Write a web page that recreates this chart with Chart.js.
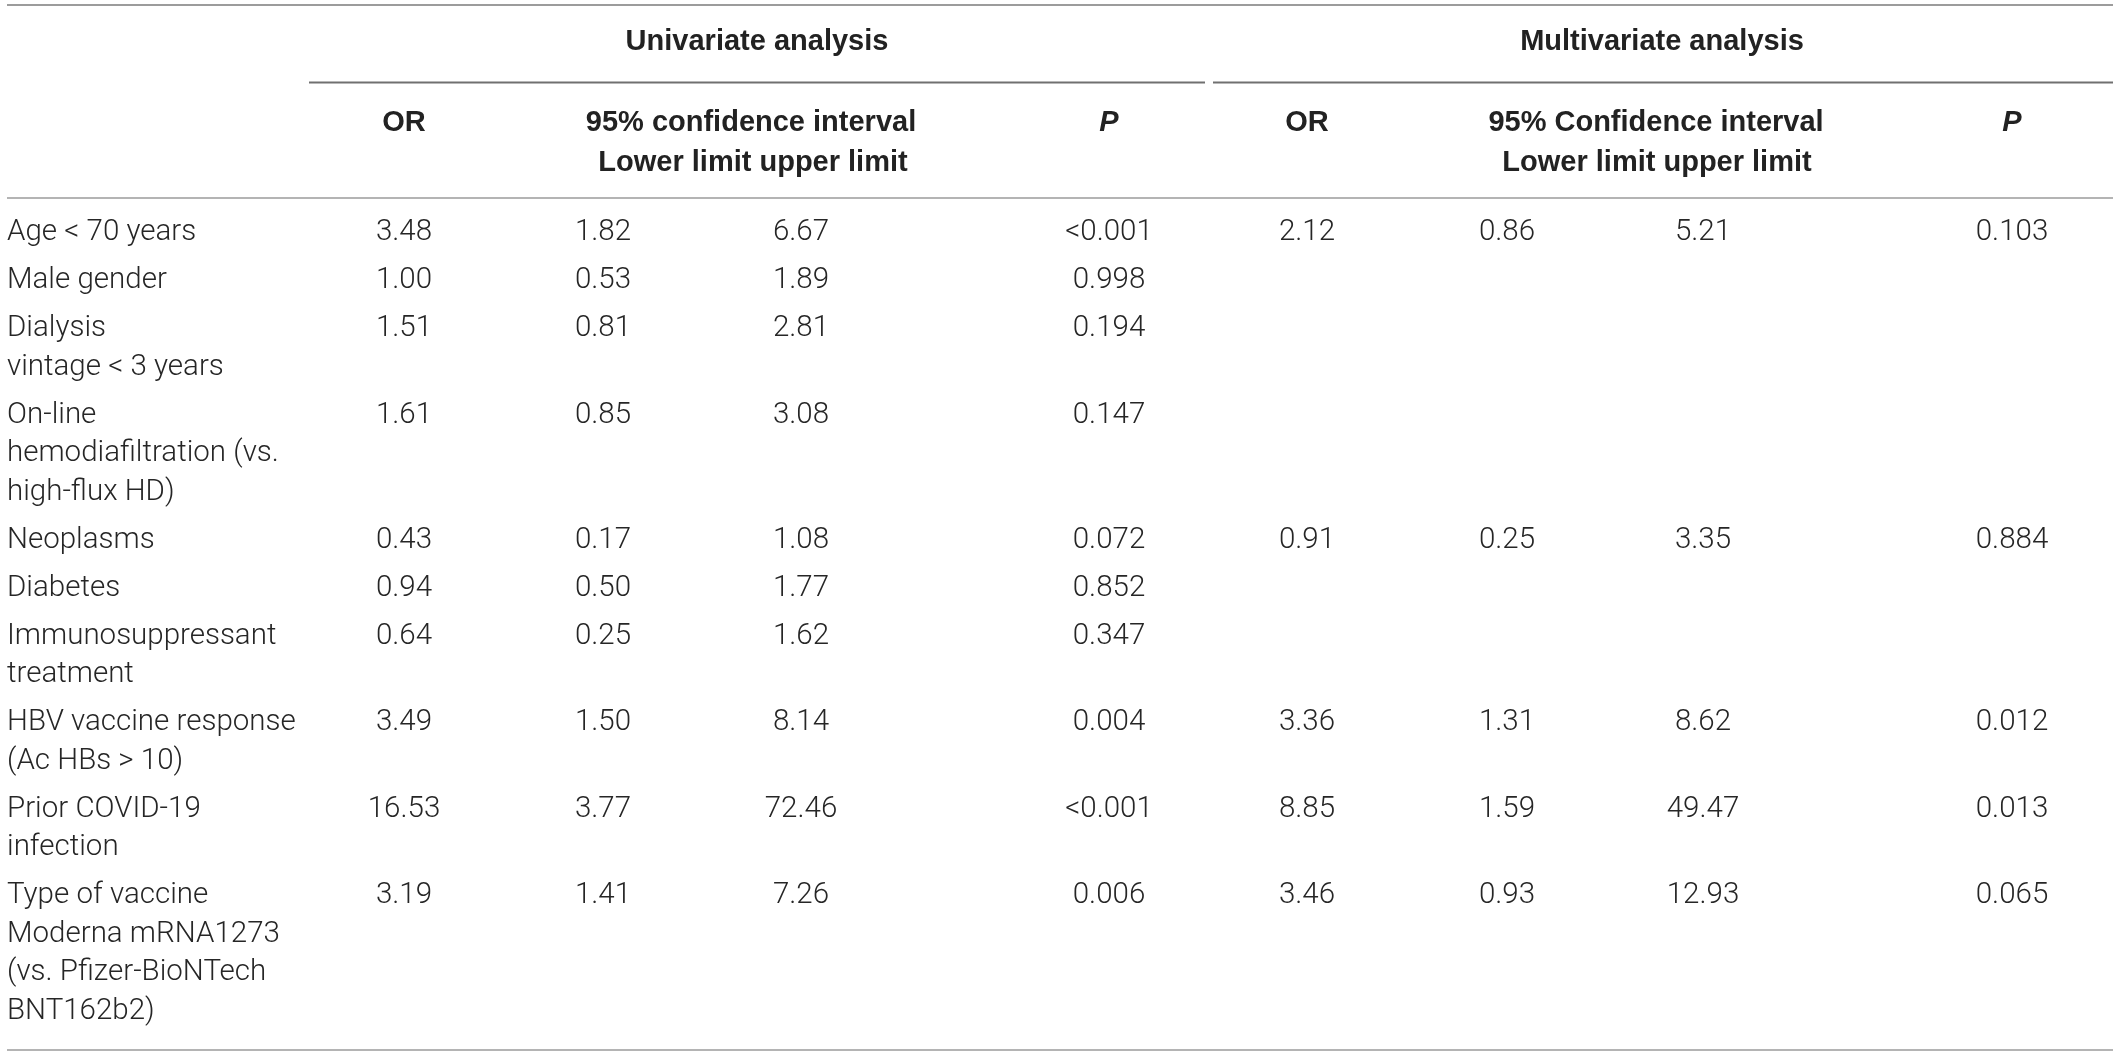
<!DOCTYPE html>
<html>
<head>
<meta charset="utf-8">
<script src="https://cdn.jsdelivr.net/npm/chart.js@4"></script>
<style>
  html, body { margin: 0; padding: 0; background: #ffffff; }
  #wrap { width: 2118px; height: 1056px; position: relative; }
</style>
</head>
<body>
<div id="wrap"><canvas id="c" width="2118" height="1056"></canvas></div>
<script>
// ---------------- DATA ----------------
const rowLabels = [
  ["Age < 70 years"],
  ["Male gender"],
  ["Dialysis", "vintage < 3 years"],
  ["On-line", "hemodiafiltration (vs.", "high-flux HD)"],
  ["Neoplasms"],
  ["Diabetes"],
  ["Immunosuppressant", "treatment"],
  ["HBV vaccine response", "(Ac HBs > 10)"],
  ["Prior COVID-19", "infection"],
  ["Type of vaccine", "Moderna mRNA1273", "(vs. Pfizer-BioNTech", "BNT162b2)"]
];
const uniOR    = [3.48, 1.00, 1.51, 1.61, 0.43, 0.94, 0.64, 3.49, 16.53, 3.19];
const uniLower = [1.82, 0.53, 0.81, 0.85, 0.17, 0.50, 0.25, 1.50, 3.77, 1.41];
const uniUpper = [6.67, 1.89, 2.81, 3.08, 1.08, 1.77, 1.62, 8.14, 72.46, 7.26];
const uniP     = ["<0.001", "0.998", "0.194", "0.147", "0.072", "0.852", "0.347", "0.004", "<0.001", "0.006"];
const multiOR    = [2.12, null, null, null, 0.91, null, null, 3.36, 8.85, 3.46];
const multiLower = [0.86, null, null, null, 0.25, null, null, 1.31, 1.59, 0.93];
const multiUpper = [5.21, null, null, null, 3.35, null, null, 8.62, 49.47, 12.93];
const multiP     = ["0.103", null, null, null, "0.884", null, null, "0.012", "0.013", "0.065"];
const groupHeaders = ["Univariate analysis", "Multivariate analysis"];
const colHeadersUni = ["OR", "95% confidence interval", "Lower limit upper limit", "P"];
const colHeadersMulti = ["OR", "95% Confidence interval", "Lower limit upper limit", "P"];

// ---------------- LAYOUT (scale units) ----------------
const W = 2118, H = 1056;
const COLX = { label: 7, uOR: 404, uLo: 603, uHi: 801, uP: 1109, mOR: 1307, mLo: 1507, mHi: 1703, mP: 2012 };
const FIRST_ROW = 233, ROW_PITCH = 48, LINE_STEP = 38.5;
const rowY = [];
(function () {
  let y = FIRST_ROW;
  rowLabels.forEach(function (lines) { rowY.push(y); y += (lines.length - 1) * LINE_STEP + ROW_PITCH; });
})();

function fmt(v) { return typeof v === "number" ? v.toFixed(2) : v; }
function col(values, key) {
  const pts = [], txt = [];
  values.forEach(function (v, i) {
    if (v === null || v === undefined) return;
    pts.push({ x: COLX[key], y: rowY[i] });
    txt.push(fmt(v));
  });
  return { data: pts, texts: txt, align: "center" };
}
const labelCol = { data: rowY.map(function (y) { return { x: COLX.label, y: y }; }), texts: rowLabels, align: "left" };

const columns = [
  labelCol,
  col(uniOR, "uOR"), col(uniLower, "uLo"), col(uniUpper, "uHi"), col(uniP, "uP"),
  col(multiOR, "mOR"), col(multiLower, "mLo"), col(multiUpper, "mHi"), col(multiP, "mP")
];

const DATA_FONT = "300 29.5px Roboto, 'Liberation Sans', sans-serif";
const HEAD_FONT = "bold 29px 'Liberation Sans', Arimo, sans-serif";
const HEAD_FONT_I = "italic bold 29px 'Liberation Sans', Arimo, sans-serif";

const tablePlugin = {
  id: "tablePlugin",
  afterDatasetsDraw(chart) {
    const ctx = chart.ctx, xs = chart.scales.x, ys = chart.scales.y;
    const px = function (v) { return xs.getPixelForValue(v); };
    const py = function (v) { return ys.getPixelForValue(v); };
    ctx.save();
    // rules
    function rule(x0, x1, y, color, w) {
      ctx.beginPath(); ctx.strokeStyle = color; ctx.lineWidth = w;
      ctx.moveTo(px(x0), py(y)); ctx.lineTo(px(x1), py(y)); ctx.stroke();
    }
    rule(7, 2113, 5, "#9c9c9c", 2);
    rule(309, 1205, 82.5, "#707070", 2);
    rule(1213, 2113, 82.5, "#707070", 2);
    rule(7, 2113, 198, "#b4b4b4", 2);
    rule(7, 2113, 1050, "#b4b4b4", 2);

    // headers
    ctx.fillStyle = "#222222";
    ctx.textBaseline = "middle";
    ctx.textAlign = "center";
    ctx.font = HEAD_FONT;
    ctx.fillText(groupHeaders[0], px(757), py(42));
    ctx.fillText(groupHeaders[1], px(1662), py(42));
    ctx.fillText(colHeadersUni[0], px(COLX.uOR), py(123));
    ctx.fillText(colHeadersUni[1], px(751), py(123));
    ctx.fillText(colHeadersUni[2], px(753), py(163));
    ctx.fillText(colHeadersMulti[0], px(COLX.mOR), py(123));
    ctx.fillText(colHeadersMulti[1], px(1656), py(123));
    ctx.fillText(colHeadersMulti[2], px(1657), py(163));
    ctx.font = HEAD_FONT_I;
    ctx.fillText(colHeadersUni[3], px(COLX.uP), py(123));
    ctx.fillText(colHeadersMulti[3], px(COLX.mP), py(123));

    // cells from dataset elements
    ctx.font = DATA_FONT;
    ctx.fillStyle = "#262626";
    chart.data.datasets.forEach(function (ds, di) {
      const meta = chart.getDatasetMeta(di);
      ctx.textAlign = ds.align;
      meta.data.forEach(function (el, i) {
        const t = ds.texts[i];
        const lines = Array.isArray(t) ? t : [t];
        const step = py(LINE_STEP) - py(0);
        lines.forEach(function (ln, k) { ctx.fillText(ln, el.x, el.y + k * step); });
      });
    });
    ctx.restore();
  }
};

function build() {
  new Chart(document.getElementById("c"), {
    type: "scatter",
    data: {
      datasets: columns.map(function (c) {
        return { data: c.data, texts: c.texts, align: c.align, pointRadius: 0, pointHoverRadius: 0, showLine: false };
      })
    },
    options: {
      responsive: false,
      animation: false,
      devicePixelRatio: 1,
      layout: { padding: 0 },
      plugins: { legend: { display: false }, tooltip: { enabled: false } },
      events: [],
      scales: {
        x: { type: "linear", min: 0, max: W, display: false },
        y: { type: "linear", min: 0, max: H, reverse: true, display: false }
      }
    },
    plugins: [tablePlugin]
  });
}
const loads = [document.fonts.load(DATA_FONT), document.fonts.load(HEAD_FONT), document.fonts.load(HEAD_FONT_I)];
Promise.all(loads).then(build, build);
</script>
</body>
</html>
